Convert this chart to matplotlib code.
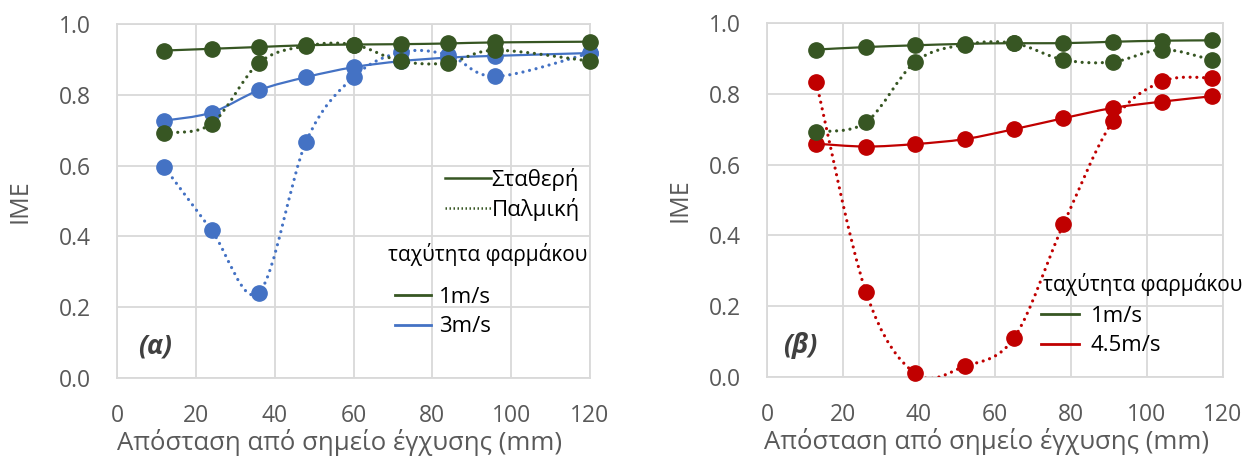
import numpy as np
import matplotlib
matplotlib.use('Agg')
import matplotlib.pyplot as plt
from matplotlib.path import Path
from matplotlib.patches import PathPatch
from matplotlib.lines import Line2D

plt.rcParams['font.family'] = ['Open Sans', 'DejaVu Sans']

# ---------------- data ----------------
x_a = [12, 24, 36, 48, 60, 72, 84, 96, 120]
a_const_1 = [0.925, 0.930, 0.935, 0.940, 0.942, 0.943, 0.945, 0.948, 0.950]
a_puls_1 = [0.693, 0.718, 0.890, 0.938, 0.942, 0.895, 0.890, 0.926, 0.895]
a_const_3 = [0.727, 0.750, 0.813, 0.850, 0.878, 0.895, 0.905, 0.910, 0.918]
a_puls_3 = [0.596, 0.417, 0.241, 0.668, 0.850, 0.920, 0.913, 0.852, 0.918]

x_b = [13, 26, 39, 52, 65, 78, 91, 104, 117]
b_const_1 = [0.925, 0.932, 0.937, 0.941, 0.943, 0.943, 0.947, 0.950, 0.951]
b_puls_1 = [0.693, 0.719, 0.890, 0.939, 0.943, 0.896, 0.890, 0.925, 0.896]
b_const_45 = [0.659, 0.651, 0.658, 0.672, 0.700, 0.731, 0.760, 0.778, 0.793]
b_puls_45 = [0.832, 0.241, 0.010, 0.030, 0.110, 0.431, 0.722, 0.835, 0.845]

x_ticks = [0, 20, 40, 60, 80, 100, 120]
y_ticks = [0.0, 0.2, 0.4, 0.6, 0.8, 1.0]
x_label = 'Απόσταση από σημείο έγχυσης (mm)'
y_label = 'IME'
mode_labels = ['Σταθερή', 'Παλμική']
speed_title = 'ταχύτητα φαρμάκου'
speed_labels_a = ['1m/s', '3m/s']
speed_labels_b = ['1m/s', '4.5m/s']

GREEN = '#375623'
BLUE = '#4472C4'
RED = '#C00000'
GRID = '#D9D9D9'
TXT = '#595959'

FS_TICK = 16.5
FS_XLAB = 18.5
FS_YLAB = 18
FS_LEG = 16
FS_TITLE = 15
FS_TAG = 19

W, H = 1247, 458


def smooth_path(x, y):
    x = np.asarray(x, float)
    y = np.asarray(y, float)
    n = len(x)
    verts = [(x[0], y[0])]
    codes = [Path.MOVETO]
    for i in range(n - 1):
        i0 = max(i - 1, 0)
        i3 = min(i + 2, n - 1)
        c1 = (x[i] + (x[i + 1] - x[i0]) / 6, y[i] + (y[i + 1] - y[i0]) / 6)
        c2 = (x[i + 1] - (x[i3] - x[i]) / 6, y[i + 1] - (y[i3] - y[i]) / 6)
        verts += [c1, c2, (x[i + 1], y[i + 1])]
        codes += [Path.CURVE4] * 3
    return Path(verts, codes)


def draw_series(ax, x, y, color, dotted, z):
    if dotted:
        patch = PathPatch(smooth_path(x, y), facecolor='none', edgecolor=color,
                          lw=2.3, linestyle=(0, (0.01, 2.1)), capstyle='round', zorder=z)
    else:
        patch = PathPatch(smooth_path(x, y), facecolor='none', edgecolor=color,
                          lw=1.6, linestyle='-', capstyle='round', zorder=z)
    ax.add_patch(patch)
    ax.plot(x, y, 'o', ms=11, color=color, mec=color, zorder=z + 0.5, clip_on=False)


def style_axes(ax):
    ax.set_xlim(0, 120)
    ax.set_ylim(0, 1.0)
    ax.set_xticks(x_ticks)
    ax.set_yticks(y_ticks)
    ax.set_yticklabels([f'{v:.1f}' for v in y_ticks])
    ax.grid(True, color=GRID, lw=1.3, zorder=0)
    ax.set_axisbelow(True)
    for s in ax.spines.values():
        s.set_color(GRID)
        s.set_linewidth(1.3)
    ax.tick_params(axis='both', length=0, labelsize=FS_TICK, colors=TXT)
    ax.tick_params(axis='x', pad=19)
    ax.tick_params(axis='y', pad=19)
    ax.set_xlabel(x_label, fontsize=FS_XLAB, color=TXT)
    ax.set_ylabel(y_label, fontsize=FS_YLAB, color=TXT)


def px_to_ax(ax_left, ax_top, ax_w, ax_h, px, py):
    return (px - ax_left) / ax_w, (ax_top + ax_h - py) / ax_h


def speed_legend(ax, geom, labels, colors, title_px, handle_px, row_px, text_px):
    # title as text, entries as a legend without frame
    tx, ty = px_to_ax(*geom, title_px[0], title_px[1])
    ax.text(tx, ty, speed_title, transform=ax.transAxes, fontsize=FS_TITLE,
            color='black', ha='left', va='center')
    handles = [Line2D([], [], color=c, lw=2) for c in colors]
    hx, hy = px_to_ax(*geom, handle_px, row_px)
    leg = ax.legend(handles, labels, loc='upper left', bbox_to_anchor=(hx, hy),
                    frameon=False, fontsize=FS_LEG, handlelength=(text_px[0] - handle_px) / (FS_LEG * 1.389) * 0.8,
                    handletextpad=text_px[1], labelspacing=0.38, borderpad=0,
                    borderaxespad=0)
    for t in leg.get_texts():
        t.set_color('black')
    return leg


fig = plt.figure(figsize=(W / 100, H / 100), dpi=100)
geom1 = (117, 24, 473, 354)
geom2 = (767, 23, 456, 354)
ax1 = fig.add_axes([geom1[0] / W, 1 - (geom1[1] + geom1[3]) / H, geom1[2] / W, geom1[3] / H])
ax2 = fig.add_axes([geom2[0] / W, 1 - (geom2[1] + geom2[3]) / H, geom2[2] / W, geom2[3] / H])

# --- chart (a)
style_axes(ax1)
draw_series(ax1, x_a, a_const_3, BLUE, False, 3)
draw_series(ax1, x_a, a_puls_3, BLUE, True, 3)
draw_series(ax1, x_a, a_const_1, GREEN, False, 4)
draw_series(ax1, x_a, a_puls_1, GREEN, True, 4)
ax1.xaxis.set_label_coords(0.471, -0.145)
ax1.yaxis.set_label_coords(-0.178, 0.5)
ax1.text(0.08, 0.09, '(α)', transform=ax1.transAxes, fontsize=FS_TAG, fontweight='bold',
         fontstyle='italic', color='#404040', ha='center', va='center')

lx, ly = px_to_ax(*geom1, 445, 168)
leg1 = ax1.legend([Line2D([], [], color=GREEN, lw=1.8),
                   Line2D([], [], color=GREEN, lw=1.8, linestyle=(0, (0.6, 1.0)))],
                  mode_labels, loc='upper left', bbox_to_anchor=(lx, ly),
                  frameon=False, fontsize=FS_LEG, handlelength=2.05, handletextpad=0.05,
                  labelspacing=0.3, borderpad=0, borderaxespad=0)
for t in leg1.get_texts():
    t.set_color('black')
ax1.add_artist(leg1)
speed_legend(ax1, geom1, speed_labels_a, [GREEN, BLUE], (388, 254), 395, 287, (440, 0.35))

# --- chart (b)
style_axes(ax2)
draw_series(ax2, x_b, b_const_45, RED, False, 3)
draw_series(ax2, x_b, b_puls_45, RED, True, 3)
draw_series(ax2, x_b, b_const_1, GREEN, False, 4)
draw_series(ax2, x_b, b_puls_1, GREEN, True, 4)
ax2.xaxis.set_label_coords(0.481, -0.145)
ax2.yaxis.set_label_coords(-0.164, 0.5)
ax2.text(0.073, 0.09, '(β)', transform=ax2.transAxes, fontsize=FS_TAG, fontweight='bold',
         fontstyle='italic', color='#404040', ha='center', va='center')
speed_legend(ax2, geom2, speed_labels_b, [GREEN, RED], (1043, 285), 1041, 306, (1089, 0.5))

fig.savefig('out.png', dpi=100)
